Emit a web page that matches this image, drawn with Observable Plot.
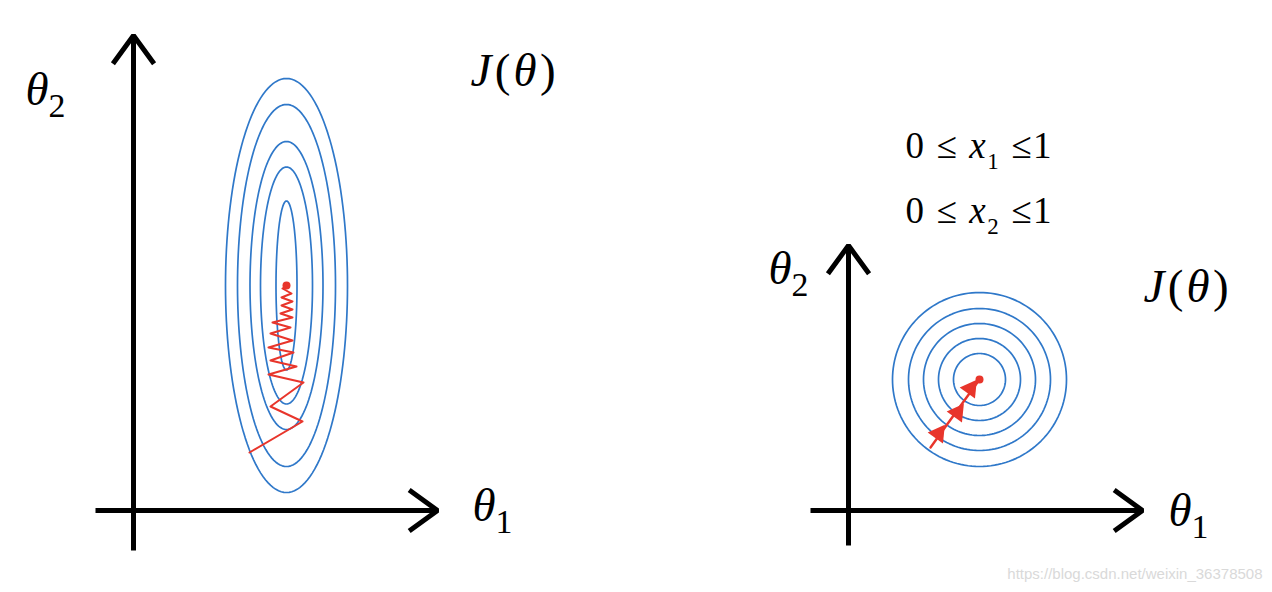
<!DOCTYPE html>
<html><head><meta charset="utf-8">
<script src="https://cdn.jsdelivr.net/npm/d3@7"></script>
<script src="https://cdn.jsdelivr.net/npm/@observablehq/plot@0.6"></script>
<style>html,body{margin:0;padding:0;background:#fff;}svg{display:block;}</style>
</head><body><div id="chart"></div>
<script>
// Diagram units (1 unit = 10 px), y pointing up.
// Coordinate axes (start -> arrow tip)
const axisX1 = [13.3, 9.5, 84.8, 81.0];
const axisY1 = [4.2, 8.2, 4.7, 8.2];
const axisX2 = [13.3, 43.7, 84.8, 114.2];
const axisY2 = [55.7, 8.2, 34.7, 8.2];

// Left panel: elongated contours of J(θ) (unscaled features)
const ellipseCenter = [28.6, 30.7];
const ellipseRx = [6.1, 4.9, 3.65, 2.6, 1.05];
const ellipseRy = [20.7, 18.1, 14.4, 11.85, 8.45];

// Left panel: zig-zag gradient descent path (from minimum back to start)
const zigzagX = [28.7, 28.2, 29.1, 28.1, 29.2, 28.1, 29.2, 28.0, 29.2, 27.2, 29.0, 27.0, 29.2, 26.8, 29.3, 27.0, 29.6, 26.8, 30.3, 27.0, 30.2, 24.9];
const zigzagY = [30.7, 30.4, 29.9, 29.5, 29.1, 28.7, 28.3, 27.9, 27.5, 27.0, 26.5, 25.9, 25.2, 24.5, 24.0, 23.2, 22.6, 21.8, 21.0, 18.6, 17.1, 14.0];

// Right panel: circular contours (scaled features)
const circleCenter = [97.9, 21.3];
const circleR = [8.7, 7.1, 5.6, 4.1, 2.6];

// Right panel: direct descent path with arrowheads
const stepX = [93.0, 97.9];
const stepY = [14.5, 21.3];
const stepHeadX = [93.8, 95.7, 97.0];
const stepHeadY = [15.9, 18.0, 20.4];

// Labels
const bigLabels = ["θ_2", "J(θ)", "θ_1", "θ_2", "J(θ)", "θ_1"];
const bigLabelX = [2.5, 47.0, 47.2, 76.8, 114.3, 116.8];
const bigLabelY = [50.3, 52.2, 8.7, 32.4, 30.6, 8.2];
const rangeLabels = ["0 ≤ x_1 ≤1", "0 ≤ x_2 ≤1"];
const rangeLabelX = [90.5, 90.5];
const rangeLabelY = [44.6, 38.1];
const watermark = ["https://blog.csdn.net/weixin_36378508"];
const watermarkX = [126.2];
const watermarkY = [1.8];

// ---- build tables ----
const axes = axisX1.map((x, i) => ({x1: x, y1: axisY1[i], x2: axisX2[i], y2: axisY2[i]}));
const ringPts = (cx, cy, rx, ry, k) => d3.range(0, 144).map(j => {
  const t = (j / 144) * 2 * Math.PI;
  return {ring: k, x: cx + rx * Math.cos(t), y: cy + ry * Math.sin(t)};
});
const ellipses = ellipseRx.flatMap((rx, k) => ringPts(ellipseCenter[0], ellipseCenter[1], rx, ellipseRy[k], k));
const circles = circleR.flatMap((r, k) => ringPts(circleCenter[0], circleCenter[1], r, r, k));
const zigzag = zigzagX.map((x, i) => ({x, y: zigzagY[i]}));
const step = stepX.map((x, i) => ({x, y: stepY[i]}));
const stepAngle = Math.atan2(stepX[1] - stepX[0], stepY[1] - stepY[0]) * 180 / Math.PI;
const heads = stepHeadX.map((x, i) => ({x, y: stepHeadY[i], rot: stepAngle}));
const minima = [{x: ellipseCenter[0], y: ellipseCenter[1]}, {x: circleCenter[0], y: circleCenter[1]}];
const big = bigLabels.map((t, i) => ({t, x: bigLabelX[i], y: bigLabelY[i]}));
const ranges = rangeLabels.map((t, i) => ({t, x: rangeLabelX[i], y: rangeLabelY[i]}));
const wm = watermark.map((t, i) => ({t, x: watermarkX[i], y: watermarkY[i]}));

const blue = "#2f78c9", red = "#e8352b";

const chart = Plot.plot({
  width: 1272, height: 592, margin: 0,
  x: {domain: [0, 127.2], range: [0, 1272], axis: null},
  y: {domain: [0, 59.2], range: [592, 0], axis: null},
  marks: [
    Plot.line(ellipses, {x: "x", y: "y", z: "ring", curve: "linear-closed", stroke: blue, strokeWidth: 1.7}),
    Plot.line(circles, {x: "x", y: "y", z: "ring", curve: "linear-closed", stroke: blue, strokeWidth: 1.7}),
    Plot.line(zigzag, {x: "x", y: "y", stroke: red, strokeWidth: 2, strokeLinejoin: "round"}),
    Plot.line(step, {x: "x", y: "y", stroke: red, strokeWidth: 2.4}),
    Plot.dot(heads, {x: "x", y: "y", symbol: "triangle", r: 7, fill: red, stroke: "none", rotate: "rot"}),
    Plot.dot(minima, {x: "x", y: "y", r: 4, fill: red, stroke: "none"}),
    Plot.arrow(axes, {x1: "x1", y1: "y1", x2: "x2", y2: "y2", stroke: "black", strokeWidth: 5, headAngle: 72, headLength: 10.5, strokeLinejoin: "miter", strokeLinecap: "butt"}),
    Plot.text(big, {x: "x", y: "y", text: "t", textAnchor: "start", lineAnchor: "middle", fontSize: 47, fontFamily: "Liberation Serif", fill: "black", className: "rich"}),
    Plot.text(ranges, {x: "x", y: "y", text: "t", textAnchor: "start", lineAnchor: "middle", fontSize: 37, fontFamily: "Liberation Serif", fill: "black", className: "rich range"}),
    Plot.text(wm, {x: "x", y: "y", text: "t", textAnchor: "end", lineAnchor: "middle", fontSize: 15, fontFamily: "Liberation Sans", fill: "#d9d9d9"})
  ]
});

// Math-style typesetting: italic variables, subscripts after "_"
d3.select(chart).selectAll(".rich text").each(function() {
  const s = this.textContent;
  const g = this.closest("g");
  const fs = parseFloat(g.getAttribute("font-size")) || 40;
  const isRange = g.classList.contains("range");
  const segs = [];
  for (let i = 0; i < s.length; i++) {
    const c = s[i];
    let seg;
    if (c === "_") { seg = {type: "sub", t: s[i + 1]}; i++; }
    else if ("θJx".includes(c)) seg = {type: "it", t: c};
    else seg = {type: "rm", t: c};
    const last = segs[segs.length - 1];
    if (last && last.type === seg.type) last.t += seg.t; else segs.push(seg);
  }
  const el = d3.select(this);
  el.text(null);
  if (isRange) el.attr("letter-spacing", 1.6);
  let shift = 0;
  segs.forEach((seg, k) => {
    const ts = el.append("tspan").text(seg.t);
    const target = seg.type === "sub" ? fs * (isRange ? 0.3 : 0.26) : 0;
    if (target !== shift) { ts.attr("dy", target - shift); shift = target; }
    if (seg.type === "it") ts.attr("font-style", "italic");
    if (seg.type === "sub") ts.attr("font-size", fs * (isRange ? 0.62 : 0.72));
    if (s.startsWith("J") && k > 0) ts.attr("dx", fs * 0.07);
  });
});

document.getElementById("chart").appendChild(chart);
</script>
</body></html>
